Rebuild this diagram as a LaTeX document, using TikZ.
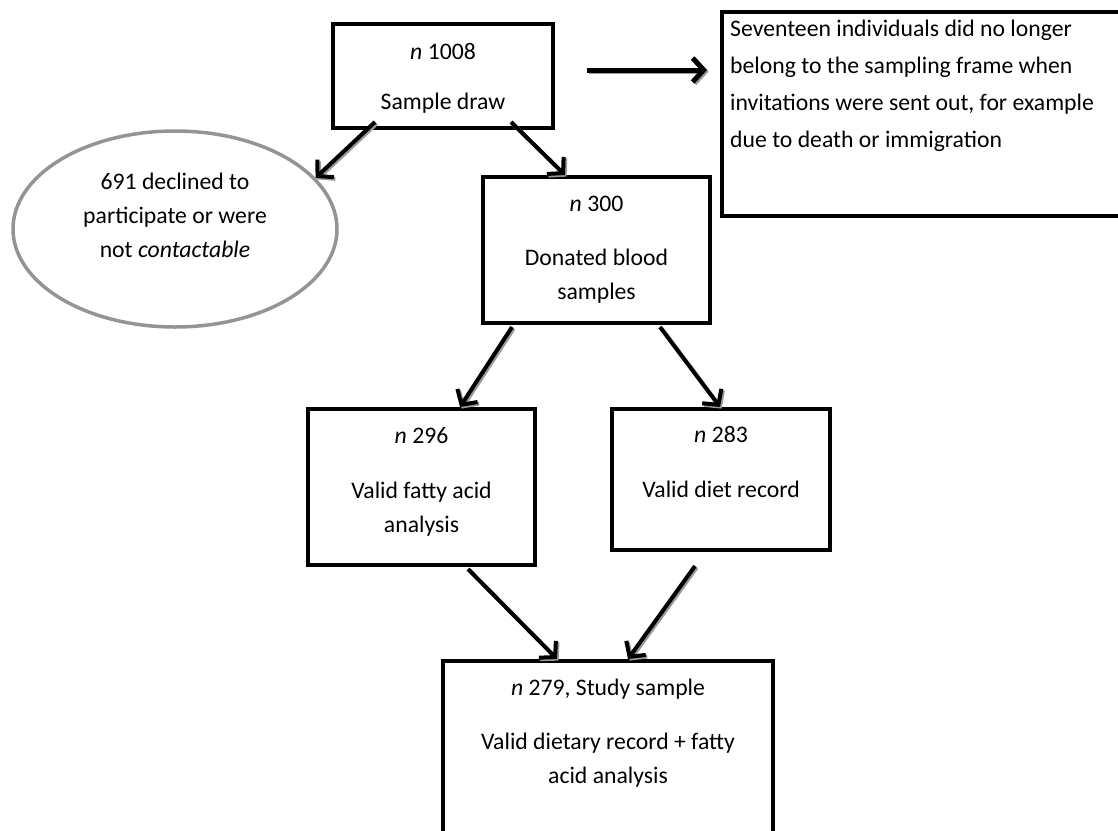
\documentclass[tikz,border=0pt]{standalone}
\usepackage{fontspec}
\setmainfont{Carlito}
\usetikzlibrary{arrows.meta,shapes.geometric,calc}
\tikzset{
  boxnode/.style={draw=black, line width=4pt, inner sep=0pt, fill=white},
  txt/.style={inner sep=0pt, align=center, font=\fontsize{23.7}{34}\selectfont},
  conn/.style={draw=black, line width=4pt, -{Straight Barb[length=11pt,width=24pt]},
    preaction={draw=black!40, line width=4pt, -{Straight Barb[length=11pt,width=24pt]},
      transform canvas={shift={(1.6,1.6)}}}},
}
\begin{document}
\begin{tikzpicture}[x=1pt,y=-1pt]
\useasboundingbox (0,0) rectangle (1118,830);
\fill[white] (0,0) rectangle (1118,830);
\clip (0,0) rectangle (1118,830);

% boxes
\node[boxnode, minimum width=220, minimum height=104] (sample) at (443,76) {};
\node[boxnode, minimum width=408, minimum height=204] (excl) at (926,114) {};
\node[ellipse, draw=black!42, line width=3.5pt, inner sep=0pt, minimum width=324, minimum height=196] (decl) at (175,229) {};
\node[boxnode, minimum width=227, minimum height=146] (donated) at (596.5,250) {};
\node[boxnode, minimum width=227, minimum height=156] (fatty) at (421.5,487) {};
\node[boxnode, minimum width=218, minimum height=141] (diet) at (721,479.5) {};
\node[boxnode, minimum width=330, minimum height=188] (study) at (608,755) {};

% texts (anchor = baseline of last line)
\node[txt, anchor=base] (tsample) at (443,109) {\textit{n} 1008\\[16pt]Sample draw};
\node[txt, anchor=base west, align=left, font=\fontsize{23.7}{36.7}\selectfont] (texcl) at (730,147)
  {Seventeen individuals did no longer\\belong to the sampling frame when\\invitations were sent out, for example\\due to death or immigration};
\node[txt, anchor=base] (tdecl) at (175,257) {691 declined to\\participate or were\\not \textit{contactable}};
\node[txt, anchor=base] (tdonated) at (596.5,299) {\textit{n} 300\\[20pt]Donated blood\\samples};
\node[txt, anchor=base] (tfatty) at (421.5,532) {\textit{n} 296\\[21pt]Valid fatty acid\\analysis};
\node[txt, anchor=base] (tdiet) at (721,497) {\textit{n} 283\\[21pt]Valid diet record};
\node[txt, anchor=base] (tstudy) at (608,783) {\textit{n} 279, Study sample\\[20pt]Valid dietary record + fatty\\acid analysis};

% connectors
\draw[conn] ($(sample.south west)+(44,-8)$) -- (decl.20);
\draw[conn] ($(sample.south west)+(180,-8)$) -- ($(donated.north)+(-31.5,0)$);
\draw[conn, line width=5pt] ($(sample.east)+(32,-6)$) -- ($(excl.west)+(-13,-44)$);
\draw[conn] ($(donated.south)+(-84.5,2)$) -- ($(fatty.north)+(38.5,0)$);
\draw[conn] ($(donated.south)+(63.5,2)$) -- ($(diet.north)+(-1,0)$);
\draw[conn] ($(fatty.south)+(46.5,2)$) -- ($(study.north)+(-51,0)$);
\draw[conn] ($(diet.south)+(-26,14)$) -- ($(study.north)+(20,0)$);
\end{tikzpicture}
\end{document}
